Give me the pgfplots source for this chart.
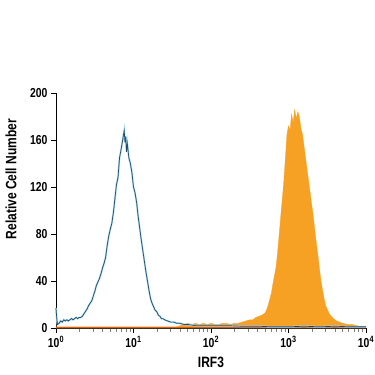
\documentclass[border=0pt]{standalone}
\usepackage{fontspec}
\setmainfont{Liberation Sans}[FakeStretch=0.8]
\usepackage{pgfplots}
\pgfplotsset{compat=1.18}
\usepackage{pgfplotstable}
\definecolor{histblue}{RGB}{30,78,110}
\definecolor{halo}{RGB}{170,215,235}
\definecolor{historange}{RGB}{246,160,36}
\definecolor{baseorange}{RGB}{220,90,30}

\pgfplotstableread{
x y
0.00 17
0.01 8
0.02 3
0.04 4
0.06 6
0.08 5
0.10 7
0.12 6
0.14 7
0.16 6
0.18 7
0.20 8
0.22 7
0.24 8
0.26 9
0.28 8
0.30 9
0.32 9
0.34 10
0.36 12
0.38 14
0.40 16
0.42 19
0.44 21
0.46 23
0.48 27
0.50 31
0.52 36
0.54 39
0.56 42
0.58 46
0.60 51
0.62 55
0.64 60
0.66 70
0.68 78
0.70 84
0.72 89
0.74 98
0.76 110
0.78 122
0.80 128
0.82 145
0.84 152
0.86 160
0.88 168
0.89 158
0.90 163
0.91 150
0.92 157
0.94 145
0.96 140
0.98 132
1.00 120
1.02 115
1.04 107
1.06 95
1.08 85
1.10 75
1.12 66
1.14 57
1.16 48
1.18 40
1.20 32
1.22 25
1.24 21
1.26 18
1.28 15
1.30 14
1.32 11
1.34 10
1.36 8
1.38 8
1.40 7
1.44 6
1.48 5
1.52 5
1.56 4
1.60 4
1.65 3
1.70 3
1.80 2
1.90 2
2.00 2
2.20 2
2.40 1.5
2.60 1.5
2.80 1
3.00 1
3.20 1.5
3.40 1
3.60 1.5
3.80 1
4.00 1
}\bluedata

\pgfplotstableread{
x y
0.00 1
1.50 1
1.55 1
1.60 2
1.65 3
1.70 4
1.75 3
1.80 4
1.85 3
1.90 4
1.95 3
2.00 4
2.05 3
2.10 3
2.15 4
2.20 4
2.25 3
2.30 4
2.35 4
2.40 5
2.45 6
2.50 7
2.54 7
2.58 9
2.62 10
2.66 11
2.70 13
2.72 16
2.74 20
2.76 25
2.78 30
2.80 38
2.82 45
2.84 52
2.86 65
2.88 80
2.90 95
2.92 110
2.94 125
2.96 145
2.98 165
3.00 172
3.02 168
3.04 182
3.06 175
3.08 186
3.10 178
3.12 184
3.14 180
3.16 170
3.18 165
3.20 155
3.22 145
3.24 135
3.26 125
3.28 115
3.30 105
3.32 95
3.34 83
3.36 72
3.38 62
3.40 50
3.42 40
3.44 32
3.46 25
3.48 19
3.50 16
3.52 13
3.55 10
3.58 8
3.62 6
3.66 5
3.70 4
3.76 3
3.82 3
3.88 2
3.94 1
4.00 1
}\orangedata

\begin{document}
\begin{tikzpicture}
\path[use as bounding box] (0,0) rectangle (375pt,375pt);
\begin{axis}[
  at={(56pt,47pt)}, anchor=south west,
  scale only axis, width=310pt, height=235pt,
  xmin=0, xmax=4, ymin=0, ymax=200,
  axis lines=left,
  axis line style={-},
  x axis line style={line width=1.6pt, color=black!80!histblue},
  y axis line style={line width=0.8pt, black},
  tick align=outside,
  xtick={0,1,2,3,4},
  xticklabels={10\textsuperscript{0},10\textsuperscript{1},10\textsuperscript{2},10\textsuperscript{3},10\textsuperscript{4}},
  minor xtick={0.301,0.477,0.602,0.699,0.778,0.845,0.903,0.954,
               1.301,1.477,1.602,1.699,1.778,1.845,1.903,1.954,
               2.301,2.477,2.602,2.699,2.778,2.845,2.903,2.954,
               3.301,3.477,3.602,3.699,3.778,3.845,3.903,3.954},
  ytick={0,40,80,120,160,200},
  major tick length=5pt, minor tick length=4pt,
  major tick style={black, line width=0.6pt},
  minor tick style={gray, line width=0.6pt},
  /pgf/number format/assume math mode=true,
  tick label style={font=\fontsize{13}{15}\selectfont\bfseries},
  xlabel={IRF3}, ylabel={Relative Cell Number},
  every axis y label/.style={at={(axis description cs:-0.145,0.634)}, rotate=90, anchor=center, font=\fontsize{15}{17}\selectfont\bfseries},
  every axis x label/.style={at={(axis description cs:0.5,-0.145)}, anchor=center, font=\fontsize{15}{17}\selectfont\bfseries},
  clip=false,
]
\addplot[draw=historange, line width=0.3pt, fill=historange] table[x=x,y=y] {\orangedata} \closedcycle;
\addplot[baseorange, line width=0.8pt] coordinates {(0,0.8) (4,0.8)};
\addplot[halo, line width=1.8pt] table[x=x,y=y] {\bluedata};
\addplot[histblue, line width=0.7pt] table[x=x,y=y] {\bluedata};
\end{axis}
\end{tikzpicture}
\end{document}
